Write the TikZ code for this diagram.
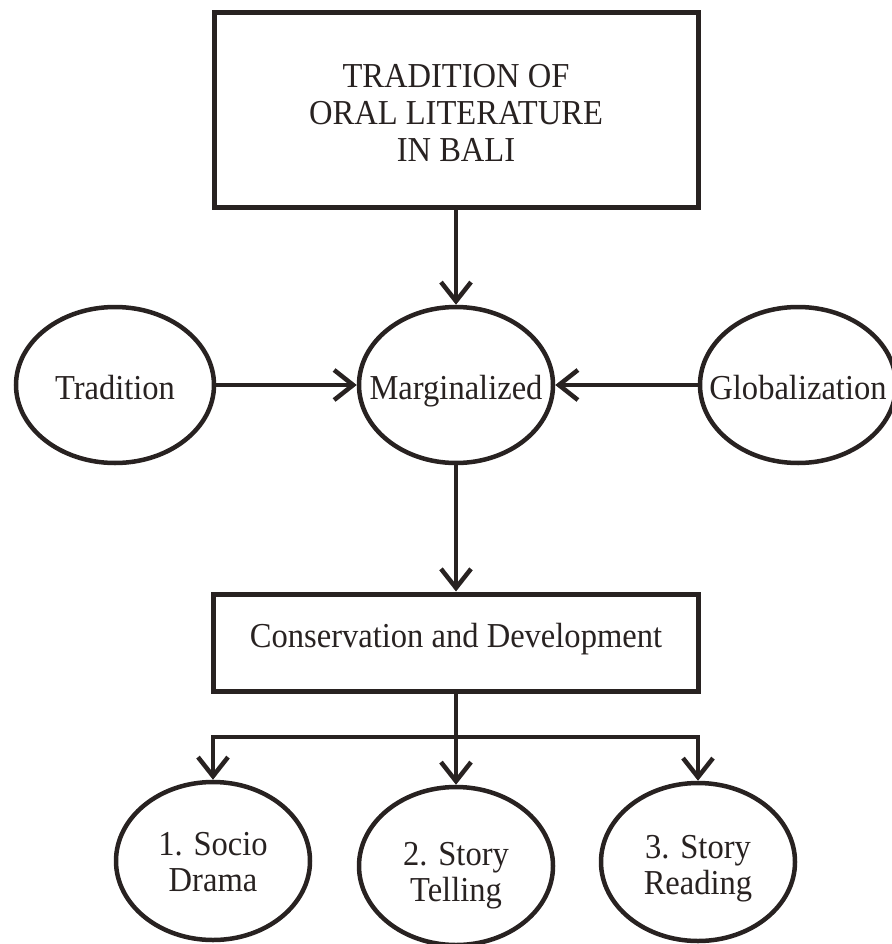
\documentclass[tikz,border=0pt]{standalone}
\usepackage{fontspec}
\setmainfont{Liberation Serif}[FakeStretch=0.93]
\usetikzlibrary{arrows.meta,shapes.geometric}
\definecolor{ink}{RGB}{40,34,33}
\begin{document}
\begin{tikzpicture}[x=1pt,y=-1pt,
  every node/.style={inner sep=0pt, text=ink, font=\fontsize{35}{37}\selectfont},
  mybox/.style={draw=ink, line width=5pt, rectangle},
  oval/.style={draw=ink, line width=4.5pt, ellipse, minimum width=194pt, minimum height=156pt},
  oneline/.style={text height=28pt, text depth=0pt},
  arr/.style={draw=ink, line width=4.5pt, line join=miter, -{Straight Barb[length=19pt,width=30pt]}},
  ln/.style={draw=ink, line width=4.5pt, line cap=rect}]
\useasboundingbox (0,0) rectangle (891,944);
% top box
\node[mybox, minimum width=484pt, minimum height=194pt, text height=0pt, text depth=44pt] (top) at (456,110)
  {\begin{tabular}[t]{@{}c@{}}TRADITION OF\\ORAL LITERATURE\\IN BALI\end{tabular}};
% middle ellipses
\node[oval, oneline, minimum width=198pt] (trad) at (115,385) {\makebox[10pt]{Tradition}};
\node[oval, oneline] (marg) at (456,385) {\makebox[10pt]{Marginalized}};
\node[oval, oneline, minimum width=196pt] (glob) at (798,385) {\makebox[10pt]{Globalization}};
% conservation box
\node[mybox, minimum width=485pt, minimum height=97pt, text height=9pt, text depth=0pt] (cons) at (456,642.5)
  {Conservation and Development};
% bottom ellipses
\node[oval, minimum height=158pt, text height=0pt, text depth=12pt] (e1) at (213,861)
  {\makebox[10pt]{\fontsize{35}{36}\selectfont\begin{tabular}[t]{@{}c@{}}1. Socio\\Drama\end{tabular}}};
\node[oval, minimum height=158pt, text height=0pt, text depth=2pt] (e2) at (456,866)
  {\makebox[10pt]{\fontsize{35}{36}\selectfont\begin{tabular}[t]{@{}c@{}}2. Story\\Telling\end{tabular}}};
\node[oval, minimum height=158pt, text height=0pt, text depth=8pt] (e3) at (698,862)
  {\makebox[10pt]{\fontsize{35}{36}\selectfont\begin{tabular}[t]{@{}c@{}}3. Story\\Reading\end{tabular}}};
% connectors
\draw[arr] (top.south) -- (marg.north);
\draw[arr] (trad) -- (marg);
\draw[arr] (glob) -- (marg);
\draw[arr] (marg.south) -- (cons.north);
\draw[arr] (cons.south) -- (e2.north);
\coordinate (bl) at (213,737);
\coordinate (br) at (698,737);
\draw[ln] (bl) -- (br);
\draw[arr] (bl) -- (e1.north);
\draw[arr] (br) -- (e3.north);
\end{tikzpicture}
\end{document}
